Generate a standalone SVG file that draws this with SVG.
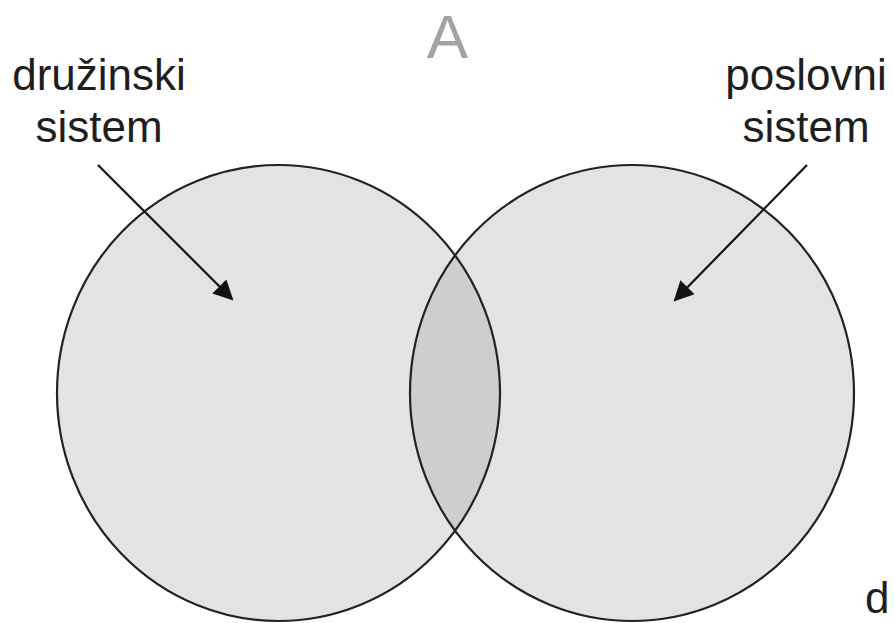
<svg xmlns="http://www.w3.org/2000/svg" width="894" height="623" viewBox="0 0 894 623">
<style>
text{font-family:"Liberation Sans",Arial,sans-serif;}
.lbl{font-size:44px;fill:#1e1e1e;text-anchor:middle;}
.ring{fill:none;stroke:#222;stroke-width:2.2;}
.arr{stroke:#111;stroke-width:2.2;fill:none;marker-end:url(#ah);}
</style>
<defs>
<marker id="ah" viewBox="0 0 10 10" refX="9" refY="5" markerWidth="11" markerHeight="9" markerUnits="strokeWidth" orient="auto">
<path d="M0,0 L10,5 L0,10 z" fill="#111"/>
</marker>
<clipPath id="clipL"><ellipse cx="278.5" cy="393" rx="221.5" ry="228"/></clipPath>
</defs>
<rect width="894" height="623" fill="#fff"/>
<text x="447.5" y="58" font-size="62" fill="#a3a3a3" text-anchor="middle">A</text>
<g id="node-family">
<ellipse cx="278.5" cy="393" rx="221.5" ry="228" fill="#e3e3e3"/>
</g>
<g id="node-business">
<ellipse cx="632" cy="393" rx="222" ry="228" fill="#e3e3e3"/>
</g>
<g id="node-overlap">
<ellipse cx="632" cy="393" rx="222" ry="228" fill="#cecece" clip-path="url(#clipL)"/>
</g>
<ellipse class="ring" cx="278.5" cy="393" rx="221.5" ry="228"/>
<ellipse class="ring" cx="632" cy="393" rx="222" ry="228"/>
<g id="label-family">
<text class="lbl" x="99" y="90">družinski</text>
<text class="lbl" x="99" y="142">sistem</text>
</g>
<g id="label-business">
<text class="lbl" x="806" y="90">poslovni</text>
<text class="lbl" x="806" y="142">sistem</text>
</g>
<g id="connectors">
<line class="arr" x1="98" y1="165" x2="232" y2="299"/>
<line class="arr" x1="807" y1="165" x2="675" y2="300"/>
</g>
<text class="lbl" x="865" y="613" text-anchor="start" style="text-anchor:start">d</text>
</svg>
